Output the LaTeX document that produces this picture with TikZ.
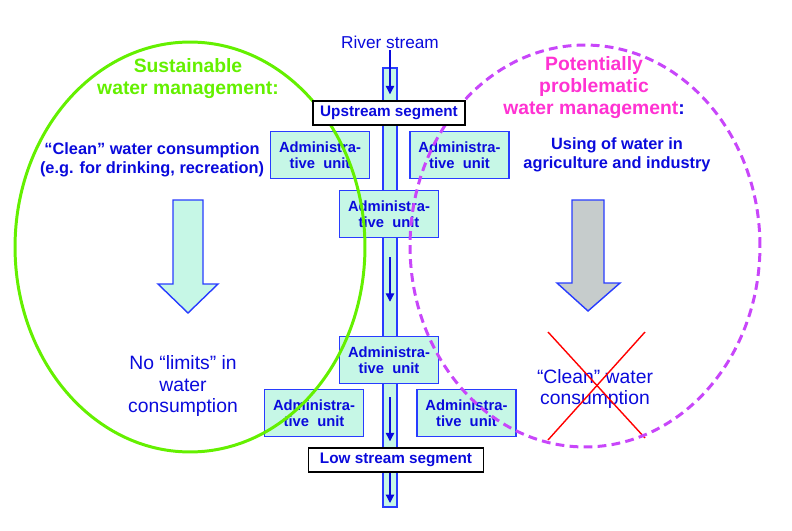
\documentclass[tikz,border=0pt]{standalone}
\usepackage{fontspec}
\setmainfont{Liberation Sans}
\usepackage{tikz}
\usetikzlibrary{arrows.meta, positioning}

\begin{document}
\begin{tikzpicture}[
    x=0.02cm, y=-0.02cm,
    unit/.style={
        rectangle,
        draw=boxblue,
        fill=riverfill,
        line width=0.85pt,
        align=center,
        inner sep=0pt,
        minimum width=1.98cm,
        minimum height=0.94cm,
        text=textblue,
        font=\fontsize{8.4}{9.1}\selectfont\bfseries
    },
    segment/.style={
        rectangle,
        draw=black,
        fill=white,
        line width=1.1pt,
        inner sep=0pt,
        minimum height=0.47cm,
        text=textblue,
        font=\fontsize{8.7}{10}\selectfont\bfseries
    },
    channel/.style={draw=boxblue, fill=riverfill, line width=0.85pt},
    flow/.style={-{Triangle[width=0.17cm,length=0.17cm]}, draw=textblue, line width=0.7pt},
    bigarrow/.style={draw=boxblue, line width=0.8pt},
    normtext/.style={text=textblue, align=center, font=\fontsize{11}{12.2}\selectfont},
    boldtext/.style={text=textblue, align=center, font=\fontsize{9.3}{10.8}\selectfont\bfseries},
    heading/.style={align=center, font=\fontsize{11}{12.5}\selectfont\bfseries},
    sustainable/.style={draw=sustgreen, line width=1.7pt},
    problematic/.style={draw=probpurple, line width=1.7pt, dash pattern=on 5pt off 3pt},
    cross/.style={draw=red, line width=0.8pt}
]

% Colors
\definecolor{textblue}{RGB}{10,10,220}
\definecolor{boxblue}{RGB}{40,60,255}
\definecolor{riverfill}{RGB}{198,247,230}
\definecolor{sustgreen}{RGB}{100,240,0}
\definecolor{probpurple}{RGB}{200,70,250}
\definecolor{probmagenta}{RGB}{255,50,210}
\definecolor{arrowgray}{RGB}{198,204,204}

\useasboundingbox (0,0) rectangle (792,531);

% River
\draw[channel] (383,68) rectangle (397,507);
\coordinate (mouth) at (390,503);
\node[normtext, font=\fontsize{9.8}{11}\selectfont, inner sep=1pt] (river) at (390,42) {River stream};

% Administrative units
\node[unit] (unitA) at (320,155) {Administra-\\tive\ \ unit};
\node[unit, right=0.78cm of unitA] (unitB) {Administra-\\tive\ \ unit};
\node[unit] (unitC) at (389,214) {Administra-\\tive\ \ unit};
\node[unit] (unitD) at (389,360) {Administra-\\tive\ \ unit};
\node[unit] (unitE) at (314,413) {Administra-\\tive\ \ unit};
\node[unit, right=1.04cm of unitE] (unitF) {Administra-\\tive\ \ unit};

% Left side
\node[heading, text=sustgreen] (sustitle) at (188,79) {Sustainable\\water management:};
\node[boldtext] (cleanuse) at (152,160) {“Clean” water consumption\\(e.g. for drinking, recreation)};
\draw[bigarrow, fill=riverfill] (173,200) -- (203,200) -- (203,284) -- (218,284) -- (188,313) -- (158,284) -- (173,284) -- cycle;
\node[normtext] (nolimits) at (183,386) {No “limits” in\\water\\consumption};

% Right side
\node[heading, text=probmagenta] (probtitle) at (594,88) {Potentially\\problematic\\water management{\color{textblue}:}};
\node[boldtext] (induse) at (617,155) {Using of water in\\agriculture and industry};
\draw[bigarrow, fill=arrowgray] (572,200) -- (604,200) -- (604,283) -- (620,283) -- (588,311) -- (557,283) -- (572,283) -- cycle;
\node[normtext] (cleanlost) at (595,389) {“Clean” water\\consumption};
\draw[cross] (548,332) -- (645,438);
\draw[cross] (645,332) -- (548,440);

% Ellipses
\draw[sustainable] (190,247) ellipse [x radius=3.5cm, y radius=4.1cm];
\draw[problematic] (585,246) ellipse [x radius=3.5cm, y radius=4.02cm];

% Segments
\node[segment, minimum width=3.04cm] (upstream) at (389,113) {Upstream segment};
\node[segment, minimum width=3.5cm] (lowstream) at (396,460) {Low stream segment};

% Arrows
\draw[flow, shorten >=0.12cm] (river.south) -- (river.south |- upstream.north);
\draw[flow, shorten <=0.38cm, shorten >=0.68cm] (unitC.south -| mouth) -- (unitD.north -| mouth);
\draw[flow, shorten <=0.26cm, shorten >=0.12cm] (unitD.south -| mouth) -- (lowstream.north -| mouth);
\draw[flow] (lowstream.south -| mouth) -- (mouth);

\end{tikzpicture}
\end{document}
